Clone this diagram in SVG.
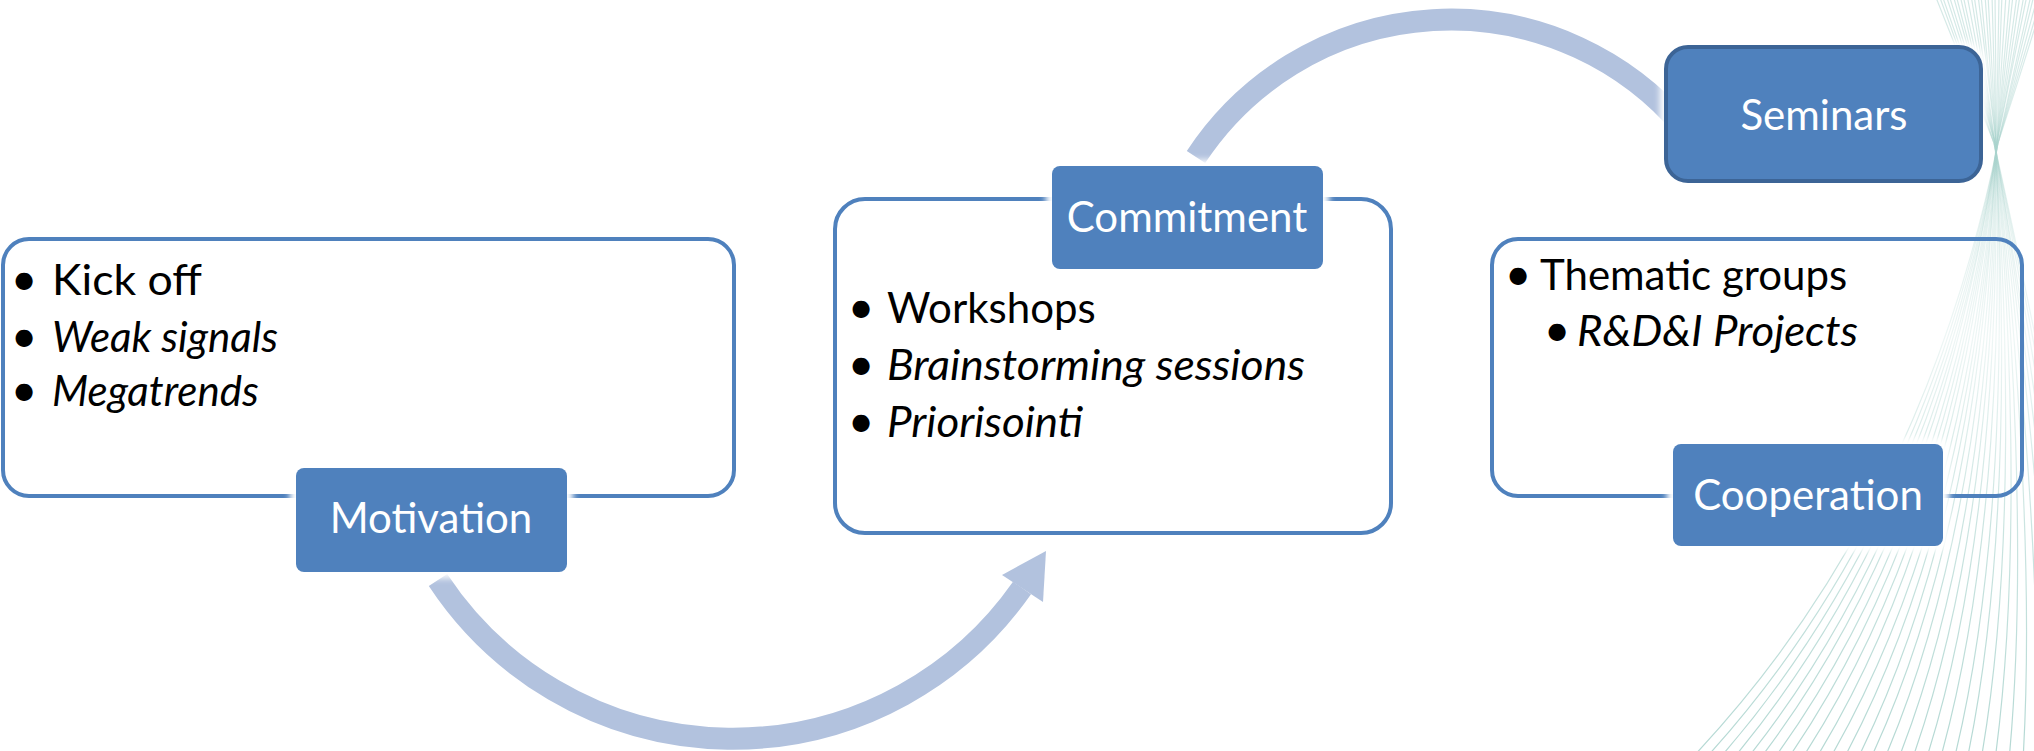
<svg xmlns="http://www.w3.org/2000/svg" width="2034" height="751" viewBox="0 0 2034 751">
<defs>
<linearGradient id="fade" gradientUnits="userSpaceOnUse" x1="0" y1="0" x2="0" y2="751">
<stop offset="0" stop-color="#a8d2cc" stop-opacity="0.5"/>
<stop offset="0.2" stop-color="#a8d2cc" stop-opacity="0.35"/>
<stop offset="0.45" stop-color="#a8d2cc" stop-opacity="0.2"/>
<stop offset="0.7" stop-color="#a8d2cc" stop-opacity="0.6"/>
<stop offset="1" stop-color="#a8d2cc" stop-opacity="0.85"/>
</linearGradient>
<filter id="halo" x="-10%" y="-20%" width="120%" height="140%"><feGaussianBlur stdDeviation="3"/></filter>
</defs>
<style>
.frame{fill:none;stroke:#4f81bd;stroke-width:4}
.lbl{fill:#4f81bd}
.glow{fill:#ffffff;filter:url(#halo)}
.lt{font-family:Lato,"Liberation Sans",sans-serif;font-size:42px;fill:#ffffff;text-anchor:middle}
.bt{font-family:Lato,"Liberation Sans",sans-serif;font-size:42px;fill:#000000}
.bu{font-family:Lato,"Liberation Sans",sans-serif;font-size:46px;fill:#000000;text-anchor:middle}
.it{font-style:italic}
.arc{fill:none;stroke:#b2c2de;stroke-width:22}
.bg path{fill:none;stroke:url(#fade);stroke-width:1.2}
</style>
<rect width="2034" height="751" fill="#ffffff"/>
<g class="bg">
<path d="M1935 -5 Q1965 70 1994 143 C2030 300 2080 560 2120 760"/>
<path d="M1939 -5 Q1966 70 1994 143 C2028 301 2074 560 2106 760"/>
<path d="M1942 -5 Q1968 70 1994 143 C2026 302 2067 560 2092 760"/>
<path d="M1946 -5 Q1970 70 1994 143 C2023 303 2061 560 2078 760"/>
<path d="M1949 -5 Q1972 70 1995 143 C2021 304 2054 560 2065 760"/>
<path d="M1953 -5 Q1974 70 1995 143 C2019 305 2048 560 2051 760"/>
<path d="M1956 -5 Q1976 70 1995 143 C2017 306 2041 560 2037 760"/>
<path d="M1960 -5 Q1977 70 1995 143 C2014 307 2035 560 2023 760"/>
<path d="M1963 -5 Q1979 70 1995 143 C2012 308 2028 560 2009 760"/>
<path d="M1967 -5 Q1981 70 1995 143 C2010 309 2022 560 1995 760"/>
<path d="M1971 -5 Q1983 70 1995 143 C2007 310 2016 560 1981 760"/>
<path d="M1974 -5 Q1985 70 1995 143 C2005 311 2009 560 1967 760"/>
<path d="M1978 -5 Q1987 70 1996 143 C2003 312 2003 560 1954 760"/>
<path d="M1981 -5 Q1988 70 1996 143 C2001 313 1996 560 1940 760"/>
<path d="M1985 -5 Q1990 70 1996 143 C1998 314 1990 560 1926 760"/>
<path d="M1988 -5 Q1992 70 1996 143 C1996 315 1983 560 1912 760"/>
<path d="M1992 -5 Q1994 70 1996 143 C1994 316 1977 560 1898 760"/>
<path d="M1995 -5 Q1996 70 1996 143 C1992 317 1970 560 1884 760"/>
<path d="M1999 -5 Q1998 70 1996 143 C1989 317 1964 560 1870 760"/>
<path d="M2002 -5 Q1999 70 1997 143 C1987 318 1957 560 1857 760"/>
<path d="M2006 -5 Q2001 70 1997 143 C1985 319 1951 560 1843 760"/>
<path d="M2010 -5 Q2003 70 1997 143 C1983 320 1945 560 1829 760"/>
<path d="M2013 -5 Q2005 70 1997 143 C1980 321 1938 560 1815 760"/>
<path d="M2017 -5 Q2007 70 1997 143 C1978 322 1932 560 1801 760"/>
<path d="M2020 -5 Q2009 70 1997 143 C1976 323 1925 560 1787 760"/>
<path d="M2024 -5 Q2011 70 1997 143 C1974 324 1919 560 1773 760"/>
<path d="M2027 -5 Q2012 70 1997 143 C1971 325 1912 560 1759 760"/>
<path d="M2031 -5 Q2014 70 1998 143 C1969 326 1906 560 1746 760"/>
<path d="M2034 -5 Q2016 70 1998 143 C1967 327 1899 560 1732 760"/>
<path d="M2038 -5 Q2018 70 1998 143 C1965 328 1893 560 1718 760"/>
<path d="M2042 -5 Q2020 70 1998 143 C1962 329 1887 560 1704 760"/>
<path d="M2045 -5 Q2022 70 1998 143 C1960 330 1880 560 1690 760"/>
</g>
<g id="connectors">
<path class="arc" d="M438 580 A353 353 0 0 0 1022 588"/>
<polygon fill="#b2c2de" points="1046,551 1043,602 1002,575"/>
<path class="arc" d="M1196 157 A305 305 0 0 1 1684 128"/>
</g>
<g id="motivation">
<rect class="frame" x="3" y="239" width="731" height="257" rx="26"/>
<rect class="glow" x="290" y="462" width="283" height="116" rx="12"/>
<rect class="lbl" x="296" y="468" width="271" height="104" rx="8"/>
<text class="lt" x="431" y="533">Motivation</text>
<text class="bu" x="24" y="295" font-size="50">•</text>
<text class="bt" x="52" y="295" font-size="52" textLength="150" lengthAdjust="spacingAndGlyphs">Kick off</text>
<text class="bu" x="24" y="352">•</text>
<text class="bt it" x="52" y="352">Weak signals</text>
<text class="bu" x="24" y="406">•</text>
<text class="bt it" x="52" y="406">Megatrends</text>
</g>
<g id="commitment">
<rect class="frame" x="835" y="199" width="556" height="334" rx="30"/>
<rect class="glow" x="1046" y="160" width="283" height="115" rx="12"/>
<rect class="lbl" x="1052" y="166" width="271" height="103" rx="8"/>
<text class="lt" x="1187" y="232">Commitment</text>
<text class="bu" x="861" y="323">•</text>
<text class="bt" x="887" y="323" font-size="41">Workshops</text>
<text class="bu" x="861" y="380">•</text>
<text class="bt it" x="887" y="380" font-size="45" textLength="418" lengthAdjust="spacingAndGlyphs">Brainstorming sessions</text>
<text class="bu" x="861" y="437">•</text>
<text class="bt it" x="887" y="437" font-size="45" textLength="196" lengthAdjust="spacingAndGlyphs">Priorisointi</text>
</g>
<g id="seminars">
<rect class="glow" x="1660" y="41" width="327" height="146" rx="26"/>
<rect x="1666" y="47" width="315" height="134" rx="22" fill="#4f81bd" stroke="#3c6496" stroke-width="4"/>
<text class="lt" x="1824" y="130" font-size="44.5">Seminars</text>
</g>
<g id="cooperation">
<rect class="frame" x="1492" y="239" width="530" height="257" rx="26"/>
<rect class="glow" x="1667" y="438" width="282" height="114" rx="12"/>
<rect class="lbl" x="1673" y="444" width="270" height="102" rx="8"/>
<text class="lt" x="1808" y="510">Cooperation</text>
<text class="bu" x="1518" y="290">•</text>
<text class="bt" x="1540" y="290" font-size="42.5">Thematic groups</text>
<text class="bu" x="1557" y="346">•</text>
<text class="bt it" x="1577" y="346" font-size="45" textLength="281" lengthAdjust="spacingAndGlyphs">R&amp;D&amp;I Projects</text>
</g>
</svg>
